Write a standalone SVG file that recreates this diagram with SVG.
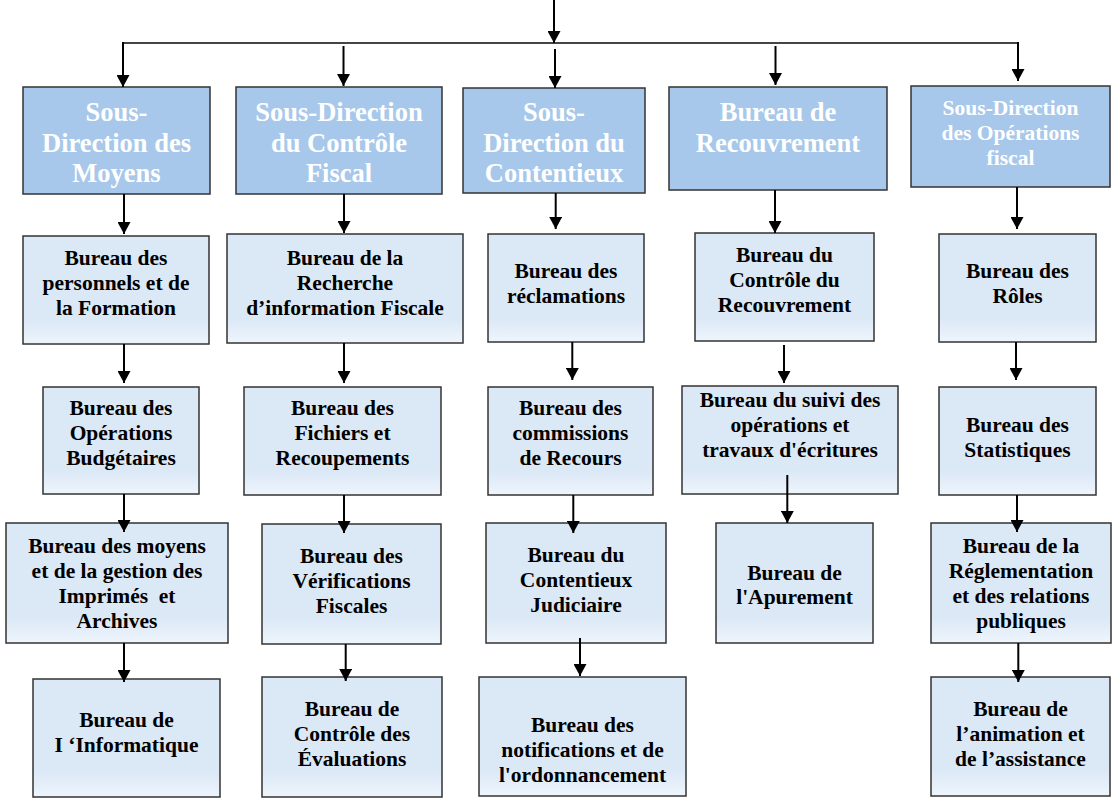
<svg xmlns="http://www.w3.org/2000/svg" width="1113" height="799" viewBox="0 0 1113 799">
<defs>
<linearGradient id="g2" x1="0" y1="0" x2="0" y2="1">
<stop offset="0" stop-color="#dbe8f6"/>
<stop offset="0.78" stop-color="#dbe8f6"/>
<stop offset="1" stop-color="#eef5fc"/>
</linearGradient>
<marker id="ah" markerUnits="userSpaceOnUse" markerWidth="13" markerHeight="13" refX="12" refY="6.5" orient="auto">
<path d="M0,0 L12,6.5 L0,13 z" fill="#000"/>
</marker>
<style>
.top rect{fill:#a7c8ea;stroke:#333;stroke-width:1.5}
.sub rect{fill:url(#g2);stroke:#333;stroke-width:1.5}
.top text{font-family:"Liberation Serif","Times New Roman",serif;font-weight:bold;font-size:26.5px;fill:#fff;text-anchor:middle}
.top text.s{font-size:21.5px}
.sub text{font-family:"Liberation Serif","Times New Roman",serif;font-weight:bold;font-size:21.5px;fill:#000;text-anchor:middle}
#conn line{stroke:#000;stroke-width:2}
#conn line.a{marker-end:url(#ah)}
#conn line.h{stroke:#444}
</style>
</defs>
<rect width="1113" height="799" fill="#fff"/>

<g id="n_t1" class="top"><rect x="23" y="87" width="187" height="107"/>
<text x="116.5" y="121">Sous-</text><text x="116.5" y="152">Direction des</text><text x="116.5" y="182">Moyens</text></g>
<g id="n_t2" class="top"><rect x="236" y="87" width="206" height="107"/>
<text x="339" y="121">Sous-Direction</text><text x="339" y="152">du Contrôle</text><text x="339" y="182">Fiscal</text></g>
<g id="n_t3" class="top"><rect x="463" y="88" width="182" height="105"/>
<text x="554" y="121">Sous-</text><text x="554" y="152">Direction du</text><text x="554" y="182">Contentieux</text></g>
<g id="n_t4" class="top"><rect x="669" y="87" width="218" height="103"/>
<text x="778" y="121">Bureau de</text><text x="778" y="152">Recouvrement</text></g>
<g id="n_t5" class="top"><rect x="911" y="86" width="199" height="101"/>
<text class="s" x="1010.5" y="115">Sous-Direction</text><text class="s" x="1010.5" y="140">des Opérations</text><text class="s" x="1010.5" y="165">fiscal</text></g>

<g id="n_a1" class="sub"><rect x="23" y="236" width="186" height="108"/>
<text x="116" y="265">Bureau des</text><text x="116" y="290">personnels et de</text><text x="116" y="315">la Formation</text></g>
<g id="n_a2" class="sub"><rect x="43" y="387" width="156" height="107"/>
<text x="121" y="415">Bureau des</text><text x="121" y="440">Opérations</text><text x="121" y="465">Budgétaires</text></g>
<g id="n_a3" class="sub"><rect x="6" y="523" width="222" height="120"/>
<text x="117" y="553">Bureau des moyens</text><text x="117" y="578">et de la gestion des</text><text x="117" y="603" style="white-space:pre">Imprimés  et</text><text x="117" y="628">Archives</text></g>
<g id="n_a4" class="sub"><rect x="33" y="679" width="187" height="118"/>
<text x="126.5" y="727">Bureau de</text><text x="126.5" y="752">I ‘Informatique</text></g>

<g id="n_b1" class="sub"><rect x="227" y="234" width="236" height="109"/>
<text x="345" y="265">Bureau de la</text><text x="345" y="290">Recherche</text><text x="345" y="315">d’information Fiscale</text></g>
<g id="n_b2" class="sub"><rect x="244" y="387" width="197" height="108"/>
<text x="342.5" y="415">Bureau des</text><text x="342.5" y="440">Fichiers et</text><text x="342.5" y="465">Recoupements</text></g>
<g id="n_b3" class="sub"><rect x="262" y="524" width="179" height="120"/>
<text x="351.5" y="563">Bureau des</text><text x="351.5" y="588">Vérifications</text><text x="351.5" y="613">Fiscales</text></g>
<g id="n_b4" class="sub"><rect x="262" y="677" width="180" height="120"/>
<text x="352" y="716">Bureau de</text><text x="352" y="741">Contrôle des</text><text x="352" y="766">Évaluations</text></g>

<g id="n_c1" class="sub"><rect x="488" y="234" width="156" height="108"/>
<text x="566" y="278">Bureau des</text><text x="566" y="303">réclamations</text></g>
<g id="n_c2" class="sub"><rect x="488" y="387" width="165" height="108"/>
<text x="570.5" y="415">Bureau des</text><text x="570.5" y="440">commissions</text><text x="570.5" y="465">de Recours</text></g>
<g id="n_c3" class="sub"><rect x="486" y="523" width="180" height="120"/>
<text x="576" y="562">Bureau du</text><text x="576" y="587">Contentieux</text><text x="576" y="612">Judiciaire</text></g>
<g id="n_c4" class="sub"><rect x="479" y="677" width="207" height="119"/>
<text x="582.5" y="732">Bureau des</text><text x="582.5" y="757">notifications et de</text><text x="582.5" y="782">l'ordonnancement</text></g>

<g id="n_d1" class="sub"><rect x="695" y="233" width="179" height="108"/>
<text x="784.5" y="262">Bureau du</text><text x="784.5" y="287">Contrôle du</text><text x="784.5" y="312">Recouvrement</text></g>
<g id="n_d2" class="sub"><rect x="682" y="386" width="216" height="108"/>
<text x="790" y="407">Bureau du suivi des</text><text x="790" y="432">opérations et</text><text x="790" y="457">travaux d'écritures</text></g>
<g id="n_d3" class="sub"><rect x="716" y="523" width="157" height="120"/>
<text x="794.5" y="580">Bureau de</text><text x="794.5" y="604">l'Apurement</text></g>

<g id="n_e1" class="sub"><rect x="939" y="234" width="157" height="108"/>
<text x="1017.5" y="278">Bureau des</text><text x="1017.5" y="303">Rôles</text></g>
<g id="n_e2" class="sub"><rect x="939" y="387" width="157" height="108"/>
<text x="1017.5" y="432">Bureau des</text><text x="1017.5" y="457">Statistiques</text></g>
<g id="n_e3" class="sub"><rect x="931" y="523" width="180" height="120"/>
<text x="1021" y="553">Bureau de la</text><text x="1021" y="578">Réglementation</text><text x="1021" y="603">et des relations</text><text x="1021" y="628">publiques</text></g>
<g id="n_e4" class="sub"><rect x="931" y="677" width="179" height="119"/>
<text x="1020.5" y="716">Bureau de</text><text x="1020.5" y="741">l’animation et</text><text x="1020.5" y="766">de l’assistance</text></g>

<g id="conn">
<line class="h" x1="123" y1="43" x2="1018" y2="43"/>
<line class="a" x1="554" y1="0" x2="554" y2="43"/>
<line class="a" x1="123" y1="42" x2="123" y2="87"/>
<line class="a" x1="343.5" y1="46" x2="343.5" y2="86"/>
<line class="a" x1="555" y1="49" x2="555" y2="88"/>
<line class="a" x1="775.5" y1="46" x2="775.5" y2="85"/>
<line class="a" x1="1018" y1="42" x2="1018" y2="81"/>

<line class="a" x1="124" y1="194" x2="124" y2="234"/>
<line class="a" x1="124" y1="344" x2="124" y2="383"/>
<line class="a" x1="124" y1="494" x2="124" y2="532"/>
<line class="a" x1="124" y1="643" x2="124" y2="682"/>

<line class="a" x1="344" y1="194" x2="344" y2="233"/>
<line class="a" x1="344" y1="343" x2="344" y2="383"/>
<line class="a" x1="344" y1="495" x2="344" y2="533"/>
<line class="a" x1="345.7" y1="644" x2="345.7" y2="681"/>

<line class="a" x1="555.7" y1="193" x2="555.7" y2="229"/>
<line class="a" x1="572.3" y1="342" x2="572.3" y2="380"/>
<line class="a" x1="573.3" y1="495" x2="573.3" y2="533"/>
<line class="a" x1="580" y1="638" x2="580" y2="676"/>

<line class="a" x1="775" y1="190" x2="775" y2="233"/>
<line class="a" x1="784" y1="345" x2="784" y2="383"/>
<line class="a" x1="787.3" y1="475" x2="787.3" y2="523"/>

<line class="a" x1="1017" y1="187" x2="1017" y2="229"/>
<line class="a" x1="1016" y1="342" x2="1016" y2="380"/>
<line class="a" x1="1017" y1="495" x2="1017" y2="532"/>
<line class="a" x1="1018.3" y1="643" x2="1018.3" y2="682"/>
</g>
</svg>
